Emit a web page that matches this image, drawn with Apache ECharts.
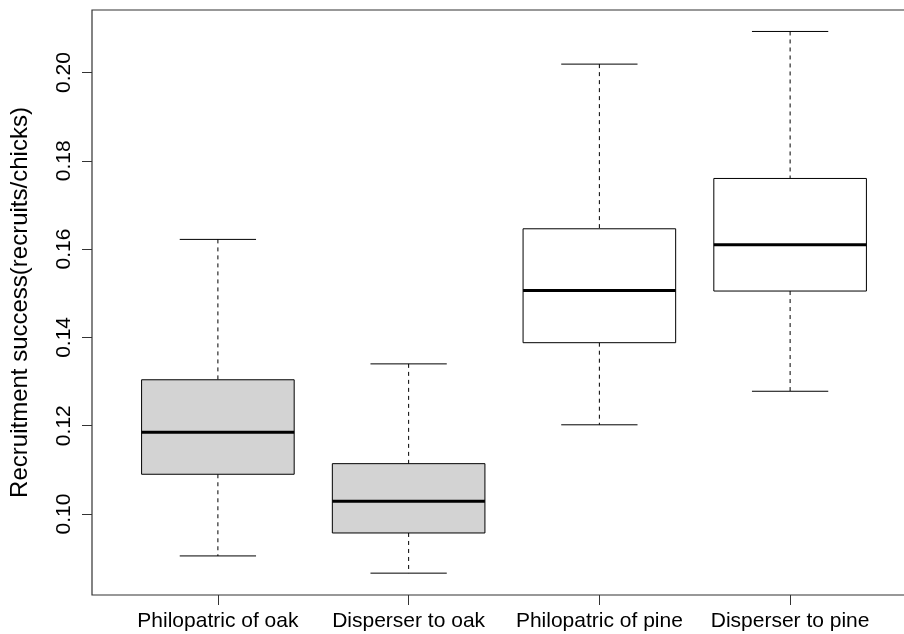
<!DOCTYPE html>
<html>
<head>
<meta charset="utf-8">
<script src="https://cdn.jsdelivr.net/npm/echarts@6/dist/echarts.min.js"></script>
<style>
html,body{margin:0;padding:0;background:#fff;}
#chart{width:904px;height:634px;}
</style>
</head>
<body>
<div id="chart"></div>
<script>
const categories = ['Philopatric of oak', 'Disperser to oak', 'Philopatric of pine', 'Disperser to pine'];
const whiskerLow  = [0.0905, 0.0866, 0.1202, 0.1278];
const q1          = [0.1090, 0.0957, 0.1388, 0.1505];
const median      = [0.1185, 0.1029, 0.1506, 0.1610];
const q3          = [0.1304, 0.1114, 0.1646, 0.1760];
const whiskerHigh = [0.1622, 0.1340, 0.2019, 0.2093];
const yTicks = [0.10, 0.12, 0.14, 0.16, 0.18, 0.20];
const boxFill = ['#d3d3d3', '#d3d3d3', '#ffffff', '#ffffff'];

const data = categories.map((c, i) => [i + 1, whiskerLow[i], q1[i], median[i], q3[i], whiskerHigh[i]]);

const chart = echarts.init(document.getElementById('chart'), null, {renderer: 'canvas'});

function renderItem(params, api) {
  const x = api.value(0);
  const lo = api.value(1), a = api.value(2), m = api.value(3), b = api.value(4), hi = api.value(5);
  const hw = 0.4, sw = 0.2;
  const pTL = api.coord([x - hw, b]);
  const pBR = api.coord([x + hw, a]);
  const pM1 = api.coord([x - hw, m]);
  const pM2 = api.coord([x + hw, m]);
  const pHi = api.coord([x, hi]);
  const pB = api.coord([x, b]);
  const pA = api.coord([x, a]);
  const pLo = api.coord([x, lo]);
  const sHi1 = api.coord([x - sw, hi]), sHi2 = api.coord([x + sw, hi]);
  const sLo1 = api.coord([x - sw, lo]), sLo2 = api.coord([x + sw, lo]);
  const idx = params.dataIndex;
  const dashStyle = {stroke: '#000', lineWidth: 1, lineDash: [4, 4]};
  const solid = {stroke: '#000', lineWidth: 1};
  return {
    type: 'group',
    children: [
      {type: 'line', shape: {x1: pHi[0], y1: pHi[1], x2: pB[0], y2: pB[1]}, style: dashStyle},
      {type: 'line', shape: {x1: pA[0], y1: pA[1], x2: pLo[0], y2: pLo[1]}, style: dashStyle},
      {type: 'line', shape: {x1: sHi1[0], y1: sHi1[1], x2: sHi2[0], y2: sHi2[1]}, style: solid},
      {type: 'line', shape: {x1: sLo1[0], y1: sLo1[1], x2: sLo2[0], y2: sLo2[1]}, style: solid},
      {type: 'rect', shape: {x: pTL[0], y: pTL[1], width: pBR[0] - pTL[0], height: pBR[1] - pTL[1]},
        style: {fill: boxFill[idx], stroke: '#000', lineWidth: 1}},
      {type: 'line', shape: {x1: pM1[0], y1: pM1[1], x2: pM2[0], y2: pM2[1]}, style: {stroke: '#000', lineWidth: 3}}
    ]
  };
}

const option = {
  animation: false,
  backgroundColor: '#ffffff',
  grid: {left: 92, right: -12, top: 10, bottom: 39, containLabel: false, outerBoundsMode: 'none',
    show: true, borderColor: '#333', borderWidth: 1.2, backgroundColor: 'transparent'},
  xAxis: {
    type: 'value', min: 0.34, max: 4.66,
    axisLine: {show: false},
    splitLine: {show: false},
    axisTick: {show: true, length: 10, customValues: [1, 2, 3, 4], lineStyle: {color: '#333', width: 1}},
    axisLabel: {customValues: [1, 2, 3, 4], formatter: v => categories[Math.round(v) - 1],
      fontFamily: 'Liberation Sans, Arial, sans-serif', fontSize: 21, color: '#000', margin: 16}
  },
  yAxis: {
    type: 'value', min: 0.08165, max: 0.21416,
    name: 'Recruitment success(recruits/chicks)',
    nameLocation: 'middle', nameRotate: 90, nameGap: 60,
    nameTextStyle: {fontFamily: 'Liberation Sans, Arial, sans-serif', fontSize: 24, color: '#000'},
    axisLine: {show: false},
    splitLine: {show: false},
    axisTick: {show: true, length: 10, customValues: yTicks, lineStyle: {color: '#333', width: 1}},
    axisLabel: {customValues: yTicks, rotate: 90, formatter: v => v.toFixed(2),
      fontFamily: 'Liberation Sans, Arial, sans-serif', fontSize: 21, color: '#000', margin: 17}
  },
  series: [{
    type: 'custom',
    renderItem: renderItem,
    encode: {x: 0, y: [1, 2, 3, 4, 5]},
    data: data,
    clip: false
  }]
};
chart.setOption(option);
</script>
</body>
</html>
